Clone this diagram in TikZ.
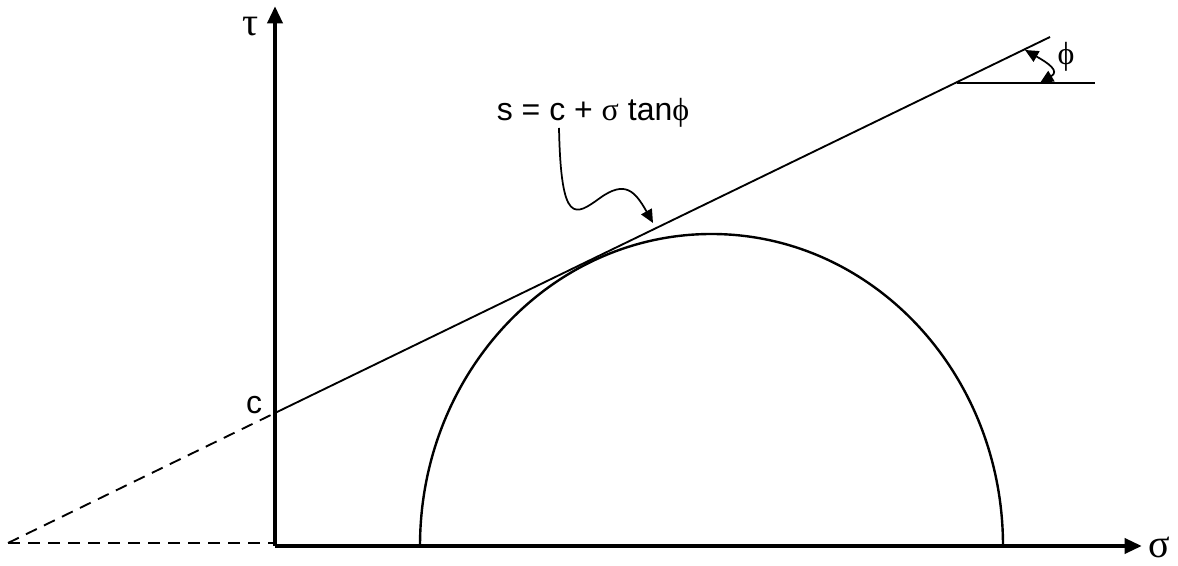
\documentclass[tikz,border=0pt]{standalone}
\usepackage{fontspec}
\setmainfont{Liberation Sans}
\newfontfamily\grk{Liberation Serif}
\usetikzlibrary{arrows.meta}
\tikzset{
  axis/.style={line width=3.3pt,-{Triangle[length=13pt,width=11pt]}},
  envelope/.style={line width=1.4pt},
  mohr/.style={line width=1.8pt},
  pointer/.style={line width=1.3pt,-{Triangle[length=10pt,width=9pt]}},
  lbl/.style={font=\fontsize{24}{28}\selectfont,inner sep=0pt},
  grklbl/.style={font=\grk\fontsize{30}{32}\selectfont,inner sep=0pt}
}
\begin{document}
\begin{tikzpicture}[x=0.75pt,y=0.75pt]
  \useasboundingbox (0,0) rectangle (1178,566);
  % axes
  \coordinate (O) at (275,20);
  \coordinate (ytop) at (275,560);
  \coordinate (xend) at (1142,20);
  \draw [axis] (O) -- (ytop);
  \draw [axis] (O) -- (xend);
  \node [grklbl] (tau) at (251,539) {τ};
  \node [grklbl] (sig) at (1159,19) {σ};
  % failure envelope
  \coordinate (A) at (8,23);
  \coordinate (C) at (275,153);
  \coordinate (B) at (1050,529);
  \draw [envelope,dashed,dash pattern=on 9pt off 6pt] (A) -- (C);
  \draw [envelope,dashed,dash pattern=on 9pt off 6pt] (A) -- (O |- A);
  \draw [envelope] (C) -- (B);
  \node [lbl] (clab) at (254,161) {c};
  % Mohr circle
  \draw [mohr] (420,20) arc [start angle=180,end angle=0,x radius=291.5,y radius=312];
  % friction angle
  \coordinate (H1) at (957,483);
  \coordinate (H2) at (1095,483);
  \draw [line width=2.2pt] (H1) -- (H2);
  \coordinate (P1) at (1025,516);
  \coordinate (P2) at (1040,483);
  \draw [pointer,{Triangle[length=10pt,width=9pt]}-{Triangle[length=10pt,width=9pt]}] (P1) .. controls (1048,503) and (1060,495) .. (P2);
  \node [font=\grk\fontsize{24}{28}\selectfont,inner sep=0pt] (phi) at (1066,509) {ϕ};
  % strength equation
  \node [lbl] (eqn) at (593,453) {s = c + {\grk σ} tan{\grk ϕ}};
  \coordinate (eqc) at (559,438);
  \coordinate (hit) at (653,343);
  \draw [pointer] (eqc) .. controls (561,340) and (575,350) .. (600,368) .. controls (625,386) and (635,375) .. (hit);
\end{tikzpicture}
\end{document}
